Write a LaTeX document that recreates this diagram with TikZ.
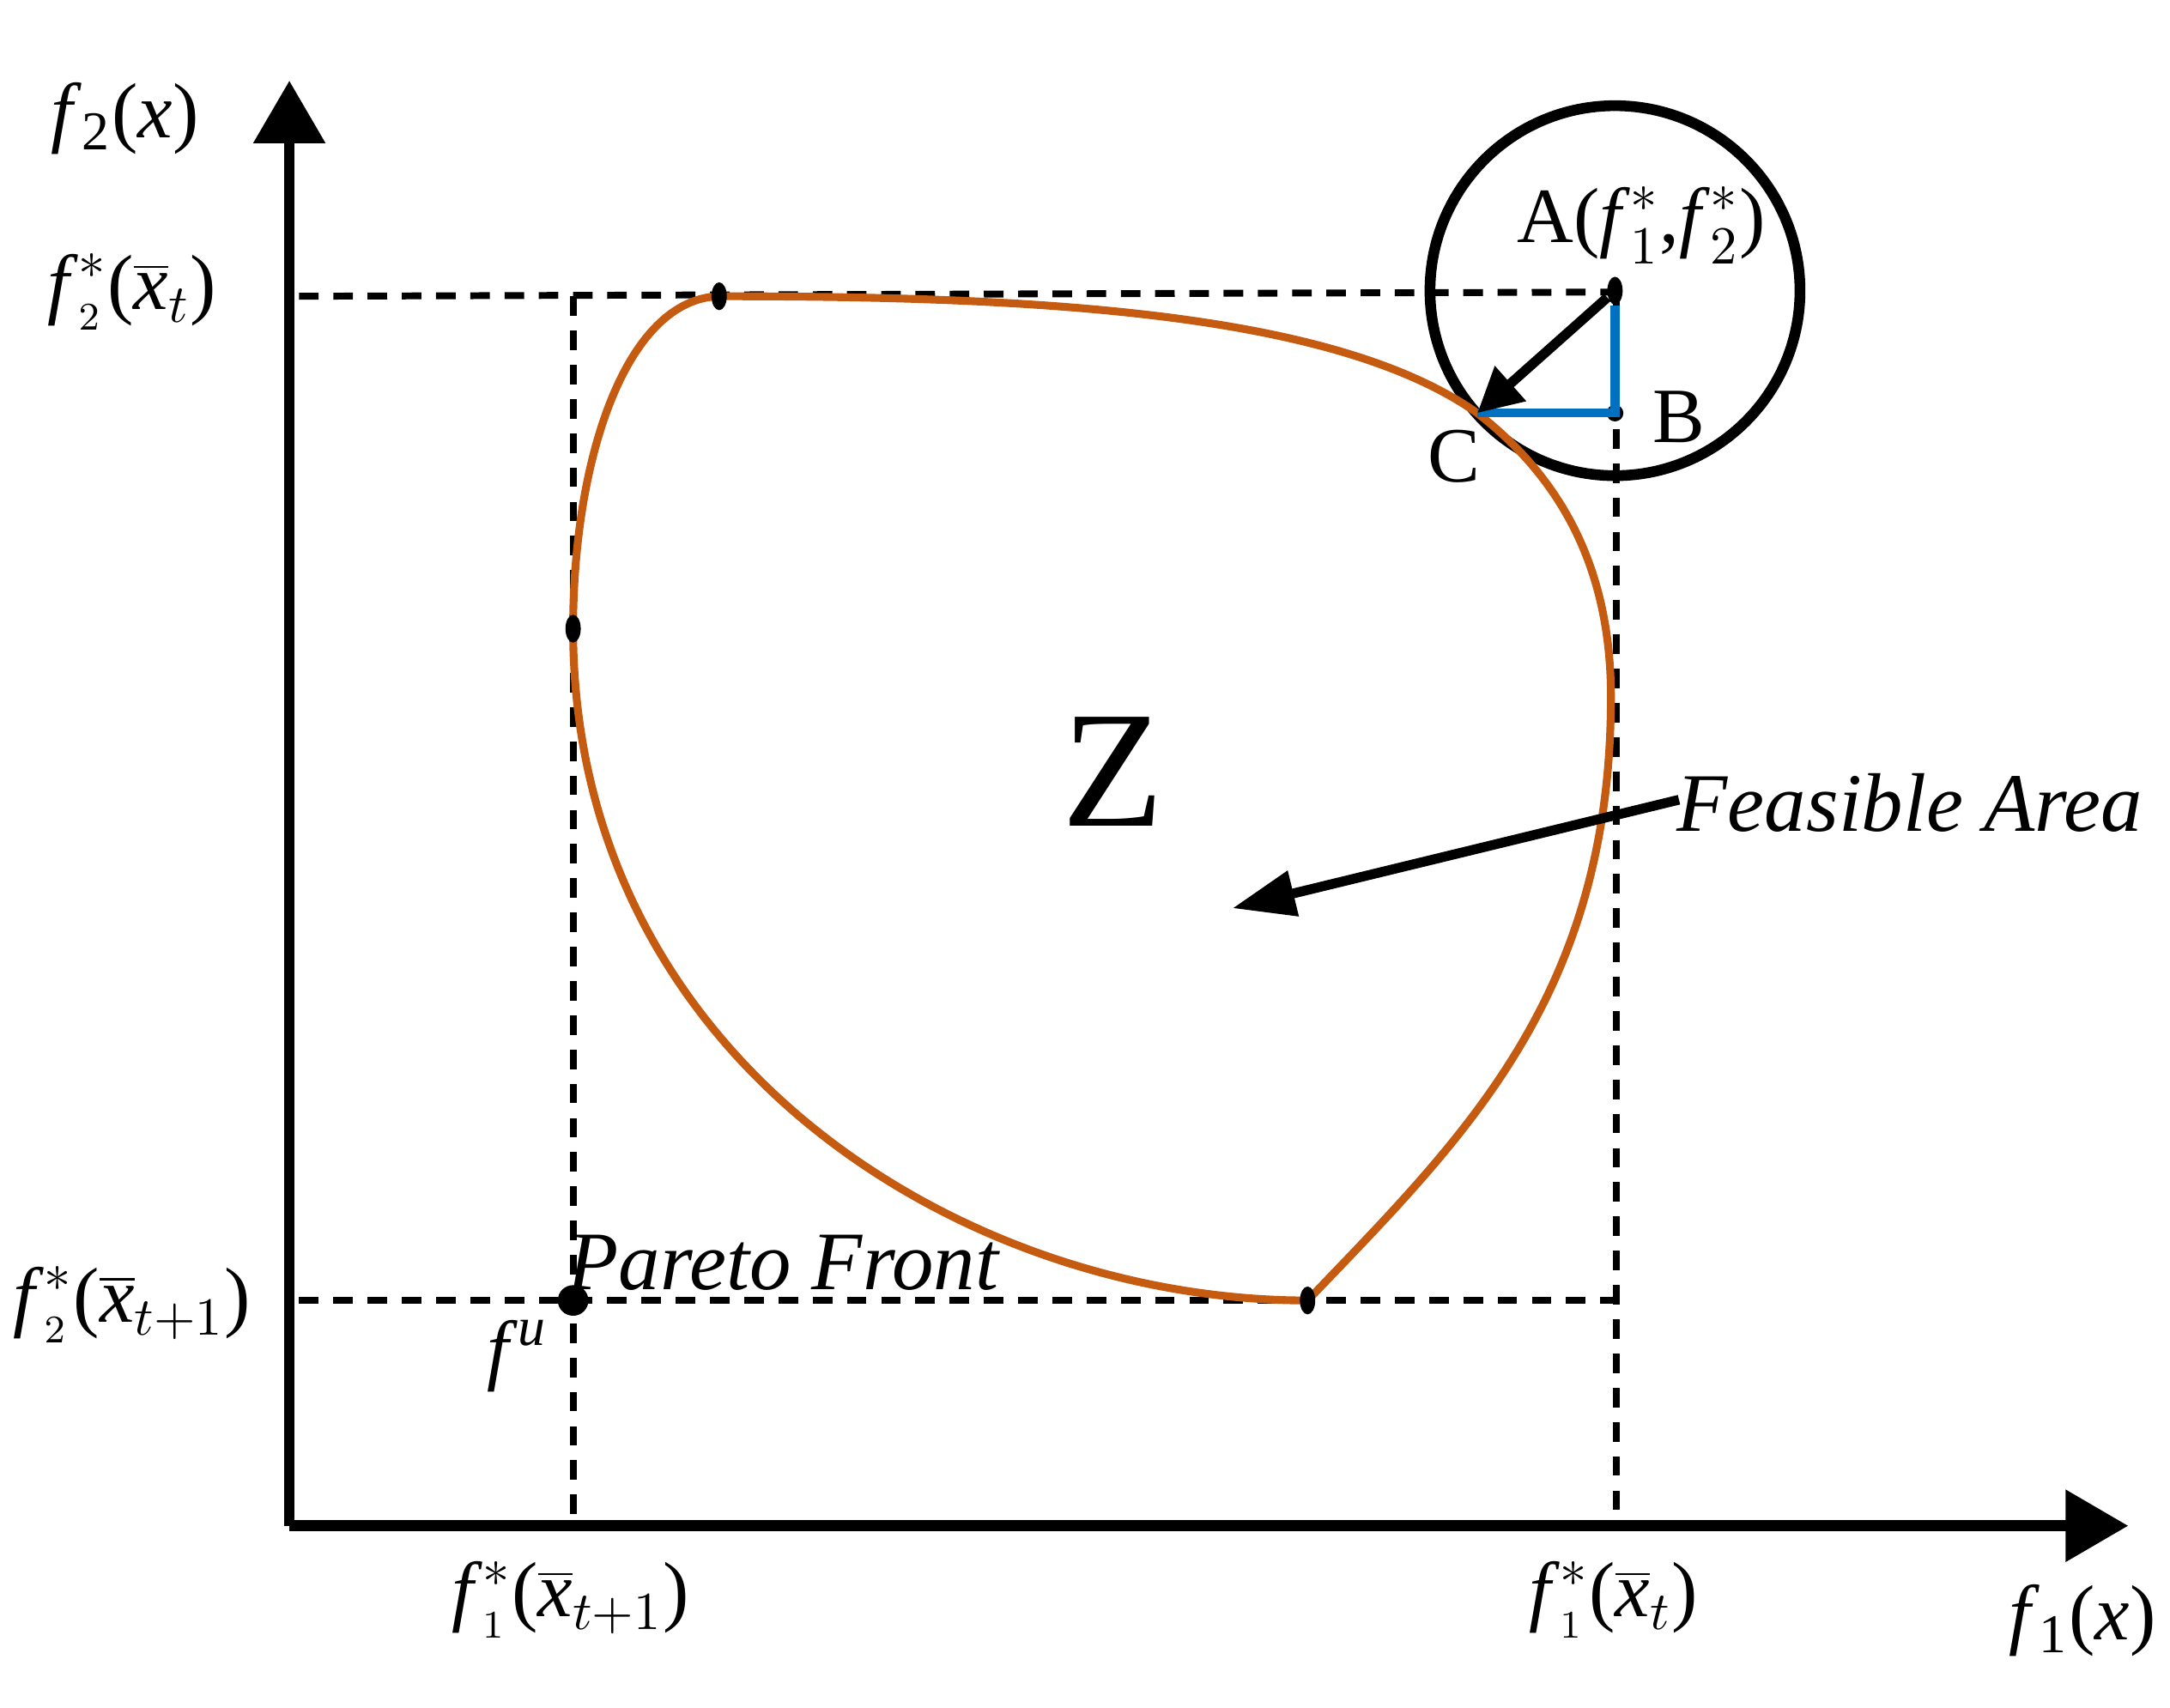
\documentclass[tikz,border=0pt]{standalone}
\usepackage{fontspec}
\setmainfont{Liberation Serif}
\usetikzlibrary{arrows.meta,shapes.geometric}
\newcommand\ffx{\textit{f}}
\newcommand\xb{$\overline{\hbox{\itshape x}}$}
\definecolor{orng}{RGB}{197,90,17}
\definecolor{blu}{RGB}{0,112,192}
\begin{document}
\begin{tikzpicture}[x=0.01cm,y=-0.01cm,
  axis/.style={line width=2.2pt,-{Triangle[length=0.45cm,width=0.5cm]}},
  dsh/.style={line width=1.4pt,dash pattern=on 4pt off 3pt},
  lbl/.style={font=\fontsize{16}{19}\selectfont,inner sep=0pt},
  dot/.style={ellipse,fill=black,minimum width=0.11cm,minimum height=0.2cm,inner sep=0pt}]
\useasboundingbox (0,0) rectangle (1560,1228);
\coordinate (O) at (208,1097);
\coordinate (Ytip) at (208,58);
\coordinate (Xtip) at (1530,1097);
\draw[axis] (O) -- (Ytip);
\draw[axis] (O) -- (Xtip);
% dashed
\draw[dsh] (215,213) -- (1160,210);
\draw[dsh] (412,213) -- (412,1097);
\draw[dsh] (1162,210) -- (1162,1097);
\draw[dsh] (215,935) -- (1160,935);
% circle
\draw[line width=2.2pt] (1161,209) circle[radius=133];
% curve
\draw[orng,line width=1.6pt] (517,213) .. controls (750,213) and (960,225) .. (1062,297)
  .. controls (1130,350) and (1160,420) .. (1158,510)
  .. controls (1155,720) and (1050,820) .. (940,935)
  .. controls (690,935) and (412,760) .. (412,452)
  .. controls (412,330) and (450,215) .. (517,213);
% points
\node[dot] (P1) at (517,213) {};
\node[dot] (P2) at (412,452) {};
\node[dot] (P3) at (940,935) {};
\node[circle,fill=black,minimum size=0.22cm,inner sep=0pt] (fu) at (412,935) {};
\node[dot] (A) at (1161,209) {};
\node[circle,fill=black,minimum size=0.12cm,inner sep=0pt] (B) at (1161,297) {};
\coordinate (C) at (1062,297);
\draw[blu,line width=1.8pt] (A) -- (B.center) -- (C);
\draw[line width=2pt,-{Triangle[length=0.32cm,width=0.32cm]}] (A) -- (C);
% feasible arrow
\coordinate (F1) at (1207,575);
\coordinate (F2) at (886,653);
\draw[line width=2pt,-{Triangle[length=0.45cm,width=0.32cm]}] (F1) -- (F2);
% labels
\node[lbl] (ly) at (90,85) {\ffx\textsubscript{2}(\textit{x})};
\node[lbl] (l1) at (95,210) {\ffx$^*_{\scriptscriptstyle 2}$(\xb$_t$)};
\node[lbl] (l2) at (95,938) {\ffx$^*_{\scriptscriptstyle 2}$(\xb$_{t+1}$)};
\node[lbl] (lu) at (372,975) {\ffx\textsuperscript{\textit{u}}};
\node[lbl] (l3) at (410,1150) {\ffx$^*_{\scriptscriptstyle 1}$(\xb$_{t+1}$)};
\node[lbl] (l4) at (1160,1150) {\ffx$^*_{\scriptscriptstyle 1}$(\xb$_t$)};
\node[lbl] (lx) at (1497,1165) {\ffx\textsubscript{1}(\textit{x})};
\node[lbl] (lA) at (1180,162) {A(\ffx$^*_1$,\ffx$^*_2$)};
\node[lbl] (lB) at (1207,300) {B};
\node[lbl] (lC) at (1045,328) {C};
\node[inner sep=0pt,font=\fontsize{34}{38}\selectfont] (Z) at (800,555) {Z};
\node[lbl,font=\fontsize{17}{20}\selectfont\itshape] (fa) at (1373,577) {Feasible Area};
\node[lbl,font=\fontsize{17}{20}\selectfont\itshape] (pf) at (563,908) {Pareto Front};
\end{tikzpicture}
\end{document}
